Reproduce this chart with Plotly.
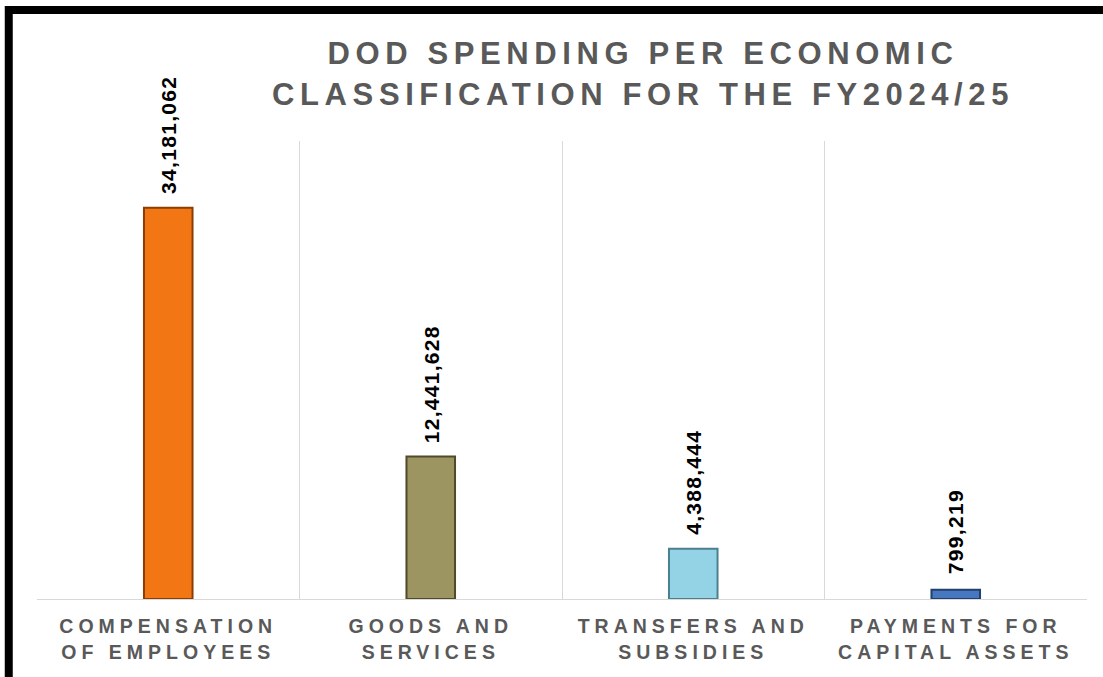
import plotly.graph_objects as go

categories = ["COMPENSATION<br>OF EMPLOYEES", "GOODS AND<br>SERVICES",
              "TRANSFERS AND<br>SUBSIDIES", "PAYMENTS FOR<br>CAPITAL ASSETS"]
values = [34181062, 12441628, 4388444, 799219]
bar_colors = ["#F27613", "#9C9461", "#94D3E5", "#4677BF"]
edge_colors = ["#8A3E06", "#4F4A2A", "#4A8090", "#223F6E"]
title_text = "DOD SPENDING PER ECONOMIC<br>CLASSIFICATION FOR THE FY2024/25"

fig = go.Figure()
fig.add_trace(go.Bar(
    x=categories, y=values, width=0.185,
    marker=dict(color=bar_colors, line=dict(color=edge_colors, width=2)),
    hoverinfo="skip",
))

for c, v in zip(categories, values):
    fig.add_annotation(x=c, y=v, text=f"<b>{v:,}</b>", showarrow=False,
                       textangle=-90, yanchor="bottom", yshift=18,
                       font=dict(family="Liberation Sans, Arial", size=21, color="#000000"))

# outer chart border (thick black on left/top)
fig.add_shape(type="rect", xref="paper", yref="paper",
              x0=-0.0269, x1=1.05, y0=-0.25, y1=1.286,
              line=dict(color="#000000", width=8), fillcolor="rgba(0,0,0,0)", layer="above")

fig.update_layout(
    width=1103, height=677,
    margin=dict(l=37, r=16, t=141, b=78),
    paper_bgcolor="#FFFFFF", plot_bgcolor="#FFFFFF",
    showlegend=False,
    title=dict(text=f"<b>{title_text}</b>", x=0.583, xanchor="center",
               y=0.905, yanchor="top",
               font=dict(family="Liberation Sans, Arial", size=31, color="#595959")),
    xaxis=dict(showgrid=True, gridcolor="#D9D9D9", gridwidth=1, tickson="boundaries",
               ticks="", showline=True, linecolor="#D9D9D9", linewidth=1,
               automargin=False, ticklabelstandoff=10,
               tickfont=dict(family="Liberation Sans, Arial", size=19.5, color="#595959"),
               tickvals=categories, ticktext=[f"<b>{c}</b>" for c in categories]),
    yaxis=dict(range=[0, 40000000], showgrid=False, showticklabels=False,
               zeroline=False, showline=False, automargin=False),
)

post = """
var gd = document.getElementById('{plot_id}');
function ls(){
  gd.querySelectorAll('.xtick text').forEach(function(t){ t.style.letterSpacing='5px'; });
  var tt = gd.querySelector('.gtitle'); if (tt) tt.style.letterSpacing='5.6px';
  gd.querySelectorAll('.annotation-text').forEach(function(t){ t.style.letterSpacing='1.3px'; });
}
ls();
gd.on('plotly_afterplot', ls);
"""

fig.write_html("out.html", post_script=post)
